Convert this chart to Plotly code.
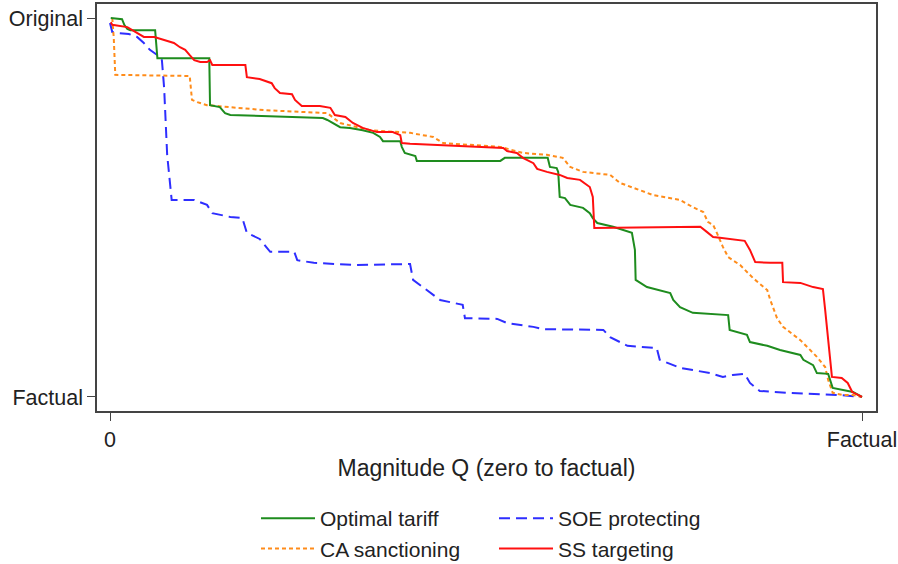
import plotly.graph_objects as go

# Magnitude Q as % of the factual level (0 = zero, 100 = factual)
# Outcome as % of the way from Factual (0) to Original (100)

opt_x = [0.1, 1.6, 1.9, 2.3, 2.7, 6.0, 6.3, 13.2, 13.3, 14.6,
         15.3, 16.0, 28.3, 28.9, 30.6, 31.9, 33.6, 35.0, 35.9, 36.3,
         38.6, 38.8, 39.2, 39.9, 40.6, 40.8, 41.2, 51.9, 52.5, 58.2,
         58.5, 59.4, 59.6, 59.8, 60.5, 61.2, 62.9, 63.8, 64.2, 64.8,
         66.9, 69.4, 69.8, 69.9, 71.4, 74.5, 74.9, 75.8, 77.5, 80.9,
         82.2, 82.4, 84.7, 85.1, 87.4, 89.1, 91.8, 92.2, 93.5, 94.0,
         95.5, 96.1, 98.8, 100]
opt_y = [100, 99.7, 98.2, 97.1, 96.8, 96.8, 89.4, 89.4, 77.0, 76.5,
         74.9, 74.4, 73.6, 73.1, 71.2, 71.0, 70.4, 69.7, 68.6, 67.5,
         67.5, 66.0, 64.4, 63.9, 63.6, 62.3, 62.3, 62.3, 63.1, 63.1,
         60.7, 60.4, 59.4, 52.8, 52.5, 50.7, 49.9, 48.5, 47.2, 45.9,
         44.9, 43.3, 38.8, 30.9, 29.0, 27.4, 25.6, 23.7, 22.2, 21.9,
         21.6, 17.7, 16.4, 14.5, 13.5, 12.4, 11.1, 9.8, 8.4, 6.3,
         6.1, 2.4, 1.3, 0]

soe_x = [0, 0.3, 1.3, 2.5, 3.6, 4.5, 5.3, 6.3, 6.9, 7.2,
         7.6, 8.0, 8.2, 10.0, 11.2, 12.9, 13.6, 16.0, 17.6, 18.2,
         19.9, 21.3, 24.5, 24.9, 27.1, 32.8, 39.9, 40.3, 42.2, 43.9,
         46.9, 47.2, 51.5, 52.8, 56.3, 57.6, 65.6, 66.5, 68.8, 72.7,
         73.1, 75.8, 77.5, 79.8, 81.5, 82.8, 84.4, 85.1, 86.4, 90.0,
         97.1, 100]
soe_y = [98.7, 96.3, 96.0, 95.8, 95.0, 93.4, 91.6, 90.2, 88.9, 81.5,
         63.9, 56.5, 52.0, 52.0, 52.0, 50.7, 48.5, 47.5, 47.2, 43.3,
         41.7, 38.3, 38.3, 36.1, 35.4, 34.8, 35.1, 30.9, 28.2, 25.6,
         24.3, 20.8, 20.6, 19.5, 18.5, 17.9, 17.7, 15.8, 13.5, 12.9,
         9.8, 7.7, 7.1, 6.3, 5.3, 5.8, 6.1, 3.7, 1.6, 1.1,
         0.5, 0]

ca_x = [0.3, 0.5, 0.7, 10.6, 10.9, 11.6, 12.9, 20.5, 28.9, 30.6,
        34.6, 39.9, 43.0, 44.3, 51.9, 54.9, 58.1, 60.2, 61.2, 62.9,
        66.5, 67.8, 72.2, 75.8, 77.5, 78.9, 79.5, 80.2, 80.7, 81.5,
        82.2, 83.8, 85.5, 87.4, 87.8, 88.7, 89.5, 91.8, 94.0, 95.1,
        95.5, 96.1, 97.5, 98.8, 100]
ca_y = [100, 94.7, 85.0, 84.7, 78.4, 77.8, 77.0, 75.7, 74.9, 72.3,
        70.4, 69.7, 68.6, 67.0, 66.0, 64.4, 63.9, 63.1, 60.7, 59.4,
        58.6, 56.5, 53.3, 52.0, 50.1, 48.8, 46.2, 45.4, 43.3, 39.6,
        36.9, 34.8, 31.4, 28.2, 25.6, 20.8, 18.5, 15.0, 10.6, 7.9,
        4.5, 1.1, 0.5, 0.5, 0]

ss_x = [0.1, 0.3, 2.3, 3.6, 4.5, 5.9, 7.2, 8.5, 9.3, 10.0,
        10.6, 11.2, 12.0, 12.9, 13.3, 13.6, 18.0, 18.2, 19.9, 21.5,
        21.9, 22.6, 24.2, 24.6, 25.5, 27.9, 29.3, 29.9, 31.3, 32.3,
        33.6, 35.5, 37.6, 38.6, 38.8, 39.9, 52.3, 52.8, 54.1, 54.9,
        56.3, 56.8, 58.1, 59.8, 60.8, 62.5, 63.8, 64.2, 64.4, 76.7,
        78.5, 79.4, 80.2, 81.1, 84.4, 85.1, 85.8, 87.8, 89.4, 89.5,
        91.8, 93.5, 94.8, 95.1, 95.5, 96.0, 97.3, 98.1, 98.7, 100]
ss_y = [98.9, 98.2, 97.6, 96.0, 95.0, 95.0, 94.2, 93.4, 92.3, 91.6,
        90.2, 88.9, 88.4, 88.4, 88.9, 87.6, 87.6, 84.4, 83.9, 82.8,
        81.5, 80.2, 79.9, 78.4, 76.8, 76.8, 76.3, 74.4, 73.9, 72.3,
        71.0, 69.9, 69.9, 69.1, 67.0, 66.8, 65.7, 64.9, 64.4, 63.1,
        61.7, 60.2, 59.4, 58.6, 57.8, 57.3, 55.4, 52.8, 44.6, 44.9,
        44.9, 43.5, 42.2, 42.0, 41.2, 38.8, 35.6, 35.4, 35.4, 30.3,
        30.1, 29.0, 28.5, 23.0, 14.2, 5.3, 5.0, 3.7, 1.3, 0]

x_tick_vals = [0, 100]
x_tick_text = ["0", "Factual"]
y_tick_vals = [0, 100]
y_tick_text = ["Factual", "Original"]

FONT = "Liberation Sans, Arial, sans-serif"

fig = go.Figure()
fig.add_trace(go.Scatter(x=soe_x, y=soe_y, mode="lines", name="SOE protecting",
                         line=dict(color="#2E2EFF", width=2, dash="11px,6px"),
                         legend="legend2", legendrank=1))
fig.add_trace(go.Scatter(x=ca_x, y=ca_y, mode="lines", name="CA sanctioning",
                         line=dict(color="#FF8C1A", width=2, dash="4px,3px"),
                         legend="legend", legendrank=2))
fig.add_trace(go.Scatter(x=opt_x, y=opt_y, mode="lines", name="Optimal tariff",
                         line=dict(color="#1E8C1E", width=2),
                         legend="legend", legendrank=1))
fig.add_trace(go.Scatter(x=ss_x, y=ss_y, mode="lines", name="SS targeting",
                         line=dict(color="#FF1010", width=2),
                         legend="legend2", legendrank=2))

axis_common = dict(showline=True, mirror=True, linecolor="#444", linewidth=1.5,
                   showgrid=False, zeroline=False, ticks="outside", ticklen=8,
                   tickcolor="#444", tickwidth=1.2, tickangle=0,
                   tickfont=dict(family=FONT, size=21.5, color="#222"))

legend_common = dict(xref="container", yref="container",
                     xanchor="left", yanchor="top", orientation="v",
                     font=dict(family=FONT, size=21, color="#222"),
                     bgcolor="rgba(0,0,0,0)", itemwidth=54, tracegroupgap=0)

fig.update_layout(
    width=898, height=564,
    margin=dict(l=97, r=22, t=4, b=153, autoexpand=False),
    plot_bgcolor="white", paper_bgcolor="white",
    font=dict(family=FONT, size=21.5, color="#222"),
    xaxis=dict(range=[-1.73, 101.86], tickvals=x_tick_vals, ticktext=x_tick_text,
               title=dict(text="Magnitude Q (zero to factual)",
                          font=dict(family=FONT, size=23, color="#222"), standoff=9),
               automargin=False, **axis_common),
    yaxis=dict(range=[-3.7, 103.7], tickvals=y_tick_vals, ticktext=y_tick_text,
               automargin=False, **axis_common),
    legend=dict(x=256/898, y=1 - 498/564, **legend_common),
    legend2=dict(x=494/898, y=1 - 498/564, **legend_common),
    showlegend=True,
)

fig.write_html("out.html", config={"displayModeBar": False},
               post_script="document.body.style.margin='0';document.body.style.overflow='hidden';")
